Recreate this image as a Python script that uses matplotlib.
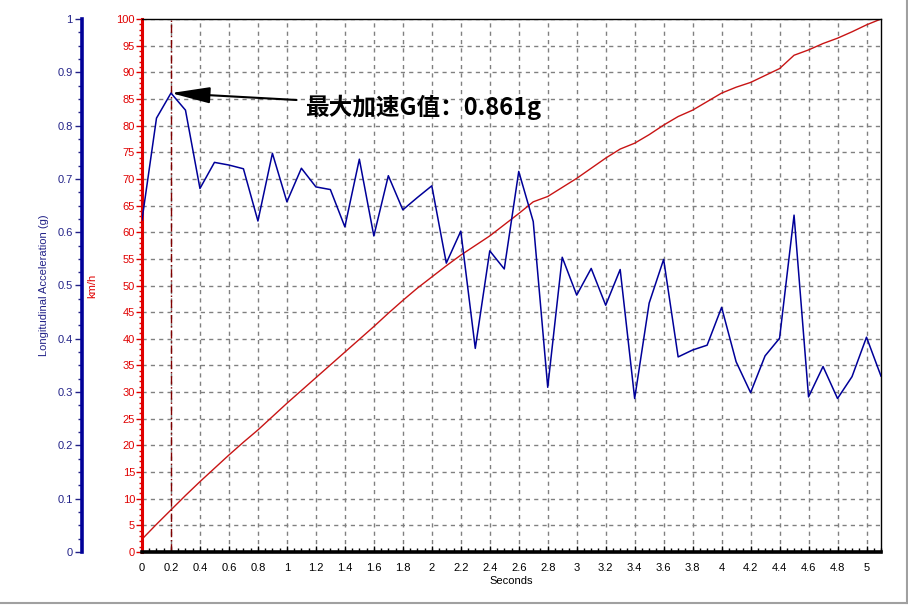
import matplotlib.pyplot as plt
import numpy as np
from matplotlib.lines import Line2D
from matplotlib.ticker import MultipleLocator, FormatStrFormatter

plt.rcParams['font.family'] = ['Liberation Sans', 'DejaVu Sans']

# sampled every 0.1 s
seconds = np.round(np.arange(52) * 0.1, 1)

accel_g = [0.623, 0.814, 0.861, 0.829, 0.682, 0.731, 0.726, 0.719, 0.621, 0.748,
           0.657, 0.720, 0.685, 0.680, 0.610, 0.737, 0.593, 0.706, 0.642, 0.665,
           0.687, 0.542, 0.602, 0.382, 0.565, 0.531, 0.714, 0.620, 0.309, 0.553,
           0.482, 0.532, 0.463, 0.530, 0.288, 0.467, 0.549, 0.366, 0.379, 0.388,
           0.459, 0.357, 0.299, 0.368, 0.401, 0.632, 0.291, 0.348, 0.288, 0.329,
           0.403, 0.330]

speed_kmh = [2.4, 5.2, 7.9, 10.6, 13.2, 15.7, 18.2, 20.6, 22.9, 25.4,
             27.9, 30.3, 32.7, 35.1, 37.5, 39.9, 42.3, 44.8, 47.2, 49.5,
             51.6, 53.7, 55.7, 57.5, 59.3, 61.4, 63.5, 65.7, 66.7, 68.4,
             70.1, 72.0, 73.9, 75.6, 76.7, 78.3, 80.1, 81.7, 82.9, 84.5,
             86.1, 87.2, 88.1, 89.4, 90.7, 93.2, 94.2, 95.4, 96.4, 97.6,
             98.9, 100.0]

peak_t = 0.2
peak_g = 0.861
note = '最大加速G值：0.861g'

red = '#e00000'
blue = '#000099'

fig = plt.figure(figsize=(9.08, 6.05), dpi=100)
ax = fig.add_axes([142 / 908, 53 / 605, 739 / 908, 533 / 605])

# speed axis (red, left spine)
ax.plot(seconds, speed_kmh, color='#c81414', lw=1)
ax.set_xlim(0, 5.1)
ax.set_ylim(0, 100)
ax.xaxis.set_major_locator(MultipleLocator(0.2))
ax.xaxis.set_minor_locator(MultipleLocator(0.05))
ax.xaxis.set_major_formatter(FormatStrFormatter('%g'))
ax.yaxis.set_major_locator(MultipleLocator(5))
ax.yaxis.set_minor_locator(MultipleLocator(1))
ax.grid(True, which='major', linestyle=(0, (3, 3)), color='#808080', lw=1)
ax.set_axisbelow(True)
ax.axvline(peak_t, color='#800000', linestyle=(0, (6, 2, 1, 2)), lw=1)

ax.spines['left'].set_color(red)
ax.spines['left'].set_linewidth(2.2)
ax.spines['bottom'].set_linewidth(2.6)
ax.spines['top'].set_linewidth(1)
ax.spines['right'].set_linewidth(1)
ax.tick_params(axis='y', which='major', colors=red, length=4, width=1, pad=1, labelsize=8)
ax.tick_params(axis='y', which='minor', colors=red, length=2, width=1)
ax.tick_params(axis='x', which='major', direction='in', length=4, width=1, pad=8, labelsize=8)
ax.tick_params(axis='x', which='minor', direction='in', length=3, width=1)
ax.set_ylabel('km/h', color=red, fontsize=8, labelpad=14)
ax.set_xlabel('Seconds', fontsize=8, labelpad=2)

# acceleration axis (blue, offset left)
ax2 = ax.twinx()
ax2.plot(seconds, accel_g, color=blue, lw=1.1)
ax2.set_ylim(0, 1)
ax2.yaxis.set_ticks_position('left')
ax2.yaxis.set_label_position('left')
ax2.spines['left'].set_position(('outward', 43))
ax2.spines['left'].set_color(blue)
ax2.spines['left'].set_linewidth(2.6)
ax2.spines['right'].set_visible(False)
ax2.spines['top'].set_visible(False)
ax2.spines['bottom'].set_visible(False)
ax2.yaxis.set_major_locator(MultipleLocator(0.1))
ax2.yaxis.set_minor_locator(MultipleLocator(0.025))
ax2.yaxis.set_major_formatter(FormatStrFormatter('%g'))
ax2.tick_params(axis='y', which='major', colors='#222288', length=5, width=1, pad=2, labelsize=8)
ax2.tick_params(axis='y', which='minor', colors='#222288', length=3, width=1)
ax2.spines['left'].set_color(blue)
ax2.set_ylabel('Longitudinal Acceleration (g)', color='#222288', fontsize=8, labelpad=6)

ax2.annotate(note, xy=(peak_t, peak_g), xytext=(1.124, 0.835),
             ha='left', va='center', fontsize=17, fontweight='bold',
             family=['Noto Sans CJK SC', 'DejaVu Sans'],
             arrowprops=dict(arrowstyle='-|>,head_length=1.2,head_width=0.25',
                             color='black', lw=1.5, shrinkA=4, shrinkB=0,
                             mutation_scale=20))

# window frame lines on right and bottom
fig.add_artist(Line2D([0.9985, 0.9985], [0.003, 1], color='#a0a0a0', lw=1.5))
fig.add_artist(Line2D([0, 0.9985], [0.003, 0.003], color='#a0a0a0', lw=1.5))

fig.savefig('out.png', dpi=100)
